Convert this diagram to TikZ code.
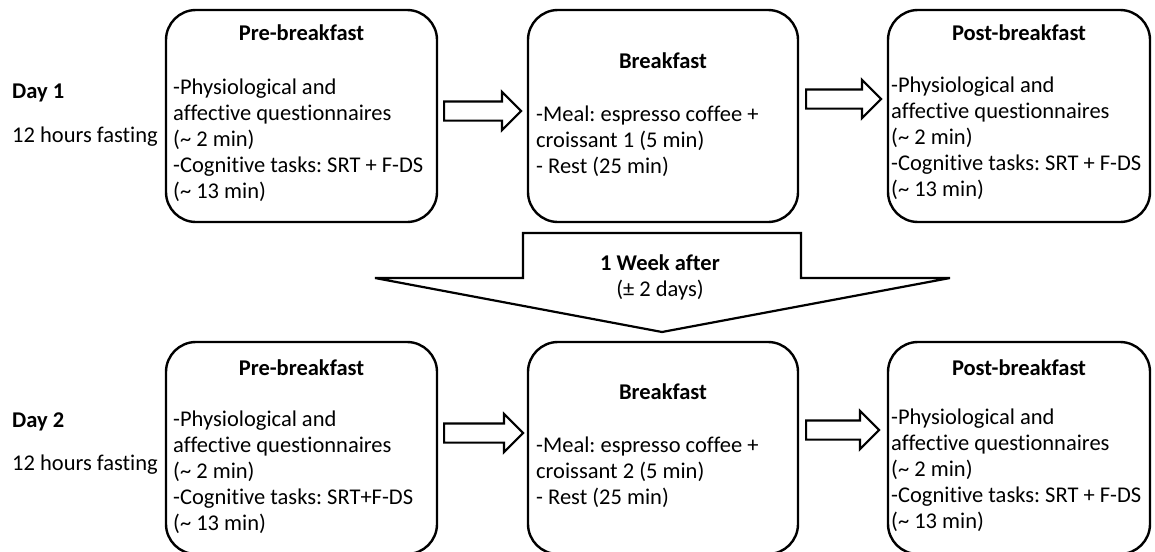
\documentclass[tikz,border=0pt]{standalone}
\usepackage{fontspec}
\setmainfont[Ligatures=NoCommon]{Carlito}
\usepackage{tikz}
\usetikzlibrary{shapes,arrows,positioning,calc,shapes.arrows}
\frenchspacing

\begin{document}
\begin{tikzpicture}[
    x=1pt, y=-1pt,
    every node/.style={font=\fontsize{22.5}{26}\selectfont, inner sep=0pt},
    phase/.style={draw, line width=2.4pt, rounded corners=30pt, minimum height=212pt},
    title/.style={font=\fontsize{22.5}{26}\selectfont\bfseries},
    body/.style={anchor=west, align=left},
    fat arrow/.style={single arrow, draw, line width=2.2pt, single arrow head extend=9.5pt,
        inner ysep=8.5pt, inner xsep=0pt, anchor=tail}
]
    \useasboundingbox (0,0) rectangle (1155,551);

    % day labels
    \node[title, anchor=west] (day1) at (12,93) {Day 1};
    \node[anchor=west] (fast1) at (12,137) {12 hours fasting};
    \node[title, anchor=west] (day2) at (12,422) {Day 2};
    \node[anchor=west] (fast2) at (12,465) {12 hours fasting};

    % day 1
    \node[phase, minimum width=271pt] (pre1) at (301.5,116) {};
    \node[phase, minimum width=270pt] (bf1) at (663,116) {};
    \node[phase, minimum width=262pt] (post1) at (1019,116) {};

    \node[title] (pre1t) at (301.5,33) {Pre-breakfast};
    \node[body] (pre1b) at (173,140) {-Physiological and\\affective questionnaires\\(\textasciitilde\ 2 min)\\-Cognitive tasks: SRT + F-DS\\(\textasciitilde\ 13 min)};
    \node[title] (bf1t) at (663,61) {Breakfast};
    \node[body] (bf1b) at (536,141) {-Meal: espresso coffee +\\croissant 1 (5 min)\\- Rest (25 min)};
    \node[title] (post1t) at (1019,33) {Post-breakfast};
    \node[body] (post1b) at (891,138) {-Physiological and\\affective questionnaires\\(\textasciitilde\ 2 min)\\-Cognitive tasks: SRT + F-DS\\(\textasciitilde\ 13 min)};

    \node[fat arrow, minimum height=77pt] (a1) at (443,111) {};
    \node[fat arrow, minimum height=75pt] (a2) at (805,99) {};

    % one week later
    \draw[line width=2.2pt] (523,233) -- (801,233) -- (801,278) -- (950,278) -- (662,332)
        -- (375,278) -- (523,278) -- cycle;
    \node[align=center] (week) at (660,277) {\textbf{1 Week after}\\(± 2 days)};

    % day 2
    \node[phase, minimum width=271pt] (pre2) at (301.5,448) {};
    \node[phase, minimum width=270pt] (bf2) at (663,448) {};
    \node[phase, minimum width=262pt] (post2) at (1019,448) {};

    \node[title] (pre2t) at (301.5,368) {Pre-breakfast};
    \node[body] (pre2b) at (173,472) {-Physiological and\\affective questionnaires\\(\textasciitilde\ 2 min)\\-Cognitive tasks: SRT+F-DS\\(\textasciitilde\ 13 min)};
    \node[title] (bf2t) at (663,392) {Breakfast};
    \node[body] (bf2b) at (536,472) {-Meal: espresso coffee +\\croissant 2 (5 min)\\- Rest (25 min)};
    \node[title] (post2t) at (1019,368) {Post-breakfast};
    \node[body] (post2b) at (891,470) {-Physiological and\\affective questionnaires\\(\textasciitilde\ 2 min)\\-Cognitive tasks: SRT + F-DS\\(\textasciitilde\ 13 min)};

    \node[fat arrow, minimum height=79pt] (a3) at (443,433) {};
    \node[fat arrow, minimum height=73pt] (a4) at (805,430) {};
\end{tikzpicture}
\end{document}
